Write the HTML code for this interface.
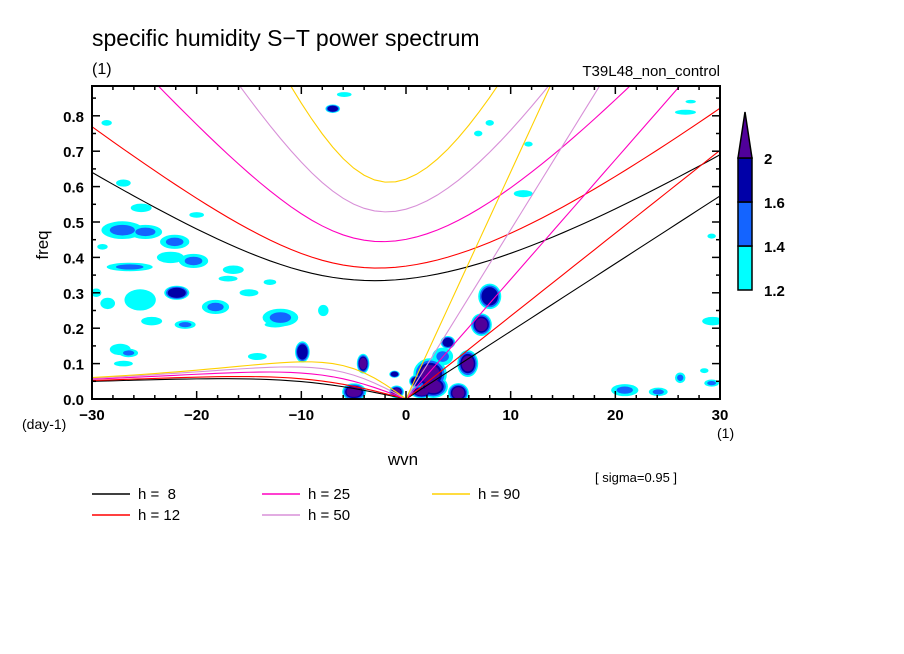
<!DOCTYPE html>
<html><head><meta charset="utf-8"><style>
body{margin:0;background:#fff;width:904px;height:654px;overflow:hidden}
svg{display:block}
text{font-family:"Liberation Sans","DejaVu Sans",sans-serif;fill:#000}
</style></head><body>
<svg id="chart" width="904" height="654" viewBox="0 0 904 654" xmlns="http://www.w3.org/2000/svg">
<text x="92" y="46" font-size="23">specific humidity S−T power spectrum</text>
<text x="92" y="74" font-size="16">(1)</text>
<text x="720" y="76" font-size="15" text-anchor="end">T39L48_non_control</text>
<text x="48" y="245" font-size="17" text-anchor="middle" transform="rotate(-90 48 245)">freq</text>
<text x="403" y="465" font-size="17" text-anchor="middle">wvn</text>
<text x="22" y="429" font-size="14">(day-1)</text>
<text x="717" y="438" font-size="14">(1)</text>
<text x="595" y="482" font-size="13">[ sigma=0.95 ]</text>
<g id="blobs"></g>
<g id="curves"></g>
<g id="axes"></g>
<g id="legend"></g>
<g id="cbar"></g>
</svg>
<script>
const xTicks = [-30,-20,-10,0,10,20,30];
const yTicks = [0,0.1,0.2,0.3,0.4,0.5,0.6,0.7,0.8];
const yTickLabels = ["0.0","0.1","0.2","0.3","0.4","0.5","0.6","0.7","0.8"];
const depths = [8,12,25,50,90];
const depthColors = ["#000000","#ff0000","#ff00c0","#d890d8","#ffd000"];
const depthLabels = ["h =  8","h = 12","h = 25","h = 50","h = 90"];
const levelColors = ["#00ffff","#1464ff","#0000a8","#50009a"];
const levelLabels = ["1.2","1.4","1.6","2"];
// blobs: wavenumber, freq, half-width (wvn), half-height (freq), max level (1..4)
const blobK = [-27.1,-24.9,-22.1,-27,-25.3,-22.5,-20.3,-26.4,-25.4,-21.9,-18.2,-16.5,-21.1,-24.3,-28.5,-29.6,-12,-12.5,-7.9,-15,-9.9,-4.1,-5.1,-27.3,-26.5,-27,-14.2,-7,-5.9,-28.6,-20,-4.9,5,5.9,7.2,8.0,4,2.3,2.6,1.5,-0.9,-1.1,26.7,27.2,11.7,6.9,8,11.2,29.3,20.9,24.1,26.2,29.2,29.2,28.5,-29,-17,-13,3.5,1];
const blobF = [0.477,0.472,0.444,0.61,0.54,0.40,0.39,0.373,0.28,0.30,0.26,0.365,0.21,0.22,0.27,0.30,0.23,0.21,0.25,0.30,0.133,0.10,0.02,0.14,0.13,0.10,0.12,0.82,0.86,0.78,0.52,0.02,0.017,0.10,0.21,0.29,0.16,0.07,0.035,0.02,0.02,0.07,0.81,0.84,0.72,0.75,0.78,0.58,0.22,0.025,0.02,0.06,0.045,0.46,0.08,0.43,0.34,0.33,0.12,0.05];
const blobW = [2.0,1.6,1.4,0.7,1.0,1.3,1.4,2.2,1.5,1.2,1.3,1.0,1.0,1.0,0.7,0.5,1.7,1.0,0.5,0.9,0.7,0.6,1.0,1.0,0.9,0.9,0.9,0.7,0.7,0.5,0.7,1.1,1.0,1.0,1.0,1.1,0.7,1.6,1.4,1.1,0.7,0.5,1.0,0.5,0.4,0.4,0.4,0.9,1.0,1.3,0.9,0.5,0.7,0.4,0.4,0.5,0.9,0.6,1.0,0.7];
const blobH = [0.025,0.02,0.02,0.01,0.012,0.016,0.02,0.012,0.03,0.02,0.02,0.012,0.012,0.012,0.016,0.012,0.025,0.008,0.016,0.01,0.03,0.028,0.024,0.016,0.012,0.008,0.01,0.012,0.007,0.008,0.008,0.024,0.028,0.038,0.032,0.036,0.018,0.045,0.032,0.018,0.018,0.01,0.007,0.005,0.007,0.008,0.008,0.01,0.012,0.017,0.012,0.015,0.01,0.007,0.007,0.008,0.008,0.008,0.025,0.018];
const blobL = [2,2,2,1,1,1,2,2,1,3,2,1,2,1,1,1,2,1,1,1,3,4,4,1,2,1,1,3,1,1,1,4,4,4,4,3,3,4,4,4,4,3,1,1,1,1,1,1,1,2,2,2,2,1,1,1,1,1,2,3];

const NS="http://www.w3.org/2000/svg";
const X0=92,X1=720,Y0=399,Y1=86,FMAX=(399-86)/354;
const sx=k=>X0+(k+30)/60*(X1-X0);
const sy=f=>Y0-f/FMAX*(Y0-Y1);
function mk(tag,attrs,parent){const e=document.createElementNS(NS,tag);for(const a in attrs)e.setAttribute(a,attrs[a]);parent.appendChild(e);return e;}

const defs=mk('defs',{},document.getElementById('chart'));
const cp=mk('clipPath',{id:'pc'},defs);
mk('rect',{x:X0,y:Y1,width:X1-X0,height:Y0-Y1},cp);

const gb=document.getElementById('blobs');
gb.setAttribute('clip-path','url(#pc)');
for(let L=1;L<=4;L++){
  for(let i=0;i<blobK.length;i++){
    if(blobL[i]<L)continue;
    const fac=1-(L-1)*(blobL[i]>=3?0.14:0.4);
    const e=mk('ellipse',{cx:sx(blobK[i]),cy:sy(blobF[i]),rx:blobW[i]*fac*10.47,ry:blobH[i]*fac*354,fill:levelColors[L-1]},gb);
    
    
  }
}

const g=9.81,a=6.371e6,beta=2*7.292e-5/a,toCpd=86400/(2*Math.PI);
function roots(kw,h){
  const c=Math.sqrt(g*h),k=kw/a;
  const p=-(k*k*c*c+3*beta*c),q=-k*beta*c*c;
  if(Math.abs(k)<1e-12){const r=Math.sqrt(-p);return [r,0,-r];}
  const m=2*Math.sqrt(-p/3);
  const th=Math.acos(Math.max(-1,Math.min(1,3*q/(p*m))))/3;
  const r=[0,1,2].map(j=>m*Math.cos(th-2*Math.PI*j/3));
  r.sort((x,y)=>y-x);return r;
}
const gc=document.getElementById('curves');
gc.setAttribute('clip-path','url(#pc)');
depths.forEach((h,di)=>{
  const c=Math.sqrt(g*h);
  let ig=[],ro=[];
  for(let k=-30;k<=30;k+=1){
    const r=roots(k,h);
    ig.push(sx(k)+','+sy(r[0]*toCpd));
    if(k<=0)ro.push(sx(k)+','+sy(r[1]*toCpd));
  }
  const p1=mk('polyline',{points:ig.join(' '),fill:'none',stroke:depthColors[di],'stroke-width':1.1},gc);
  
  
  const p2=mk('polyline',{points:ro.join(' '),fill:'none',stroke:depthColors[di],'stroke-width':1.1},gc);
  
  
  const kel=[];
  for(let k=0;k<=30;k+=1)kel.push(sx(k)+','+sy(c*k/a*toCpd));
  const p3=mk('polyline',{points:kel.join(' '),fill:'none',stroke:depthColors[di],'stroke-width':1.1},gc);
  
  
});

const ga=document.getElementById('axes');
const fr=mk('rect',{x:X0,y:Y1,width:X1-X0,height:Y0-Y1,fill:'none',stroke:'#000','stroke-width':2},ga);


for(let k=-30;k<=30;k+=2){
  const len=(k%10===0)?8:4;
  mk('line',{x1:sx(k),x2:sx(k),y1:Y0,y2:Y0-len,stroke:'#000','stroke-width':1.5},ga);
  mk('line',{x1:sx(k),x2:sx(k),y1:Y1,y2:Y1+len,stroke:'#000','stroke-width':1.5},ga);
}
for(let f=0;f<=0.86;f+=0.05){
  const len=(Math.round(f*100)%10===0)?8:4;
  mk('line',{x1:X0,x2:X0+len,y1:sy(f),y2:sy(f),stroke:'#000','stroke-width':1.5},ga);
  mk('line',{x1:X1,x2:X1-len,y1:sy(f),y2:sy(f),stroke:'#000','stroke-width':1.5},ga);
}
xTicks.forEach(k=>{
  const t=mk('text',{x:sx(k),y:Y0+21,'font-size':15,'text-anchor':'middle','font-weight':'bold'},ga);
  t.textContent=k<0?'−'+(-k):String(k);
  
  
});
yTicks.forEach((f,i)=>{
  const t=mk('text',{x:X0-8,y:sy(f)+6,'font-size':15,'text-anchor':'end','font-weight':'bold'},ga);
  t.textContent=yTickLabels[i];
  
  
});

const gl=document.getElementById('legend');
const lx=[92,92,262,262,432],ly=[494,515,494,515,494];
depths.forEach((h,i)=>{
  const ln=mk('line',{x1:lx[i],x2:lx[i]+38,y1:ly[i],y2:ly[i],stroke:depthColors[i],'stroke-width':1.5},gl);
  
  
  const t=mk('text',{x:lx[i]+46,y:ly[i]+5,'font-size':15},gl);
  t.setAttribute('style','white-space:pre');
  t.textContent=depthLabels[i];
  
  
});

const gcb=document.getElementById('cbar');
const boxY=[246,202,158];
for(let i=0;i<3;i++){
  const r=mk('rect',{x:738,y:boxY[i],width:14,height:44,fill:levelColors[i],stroke:'#000','stroke-width':1.5},gcb);
  
  
}
const tri=mk('polygon',{points:'738,158 752,158 745,112',fill:levelColors[3],stroke:'#000','stroke-width':1.5},gcb);


const labY=[296,252,208,164];
levelLabels.forEach((s,i)=>{
  const t=mk('text',{x:764,y:labY[i],'font-size':15,'font-weight':'bold'},gcb);
  t.textContent=s;
  
  
});
</script>
</body></html>
